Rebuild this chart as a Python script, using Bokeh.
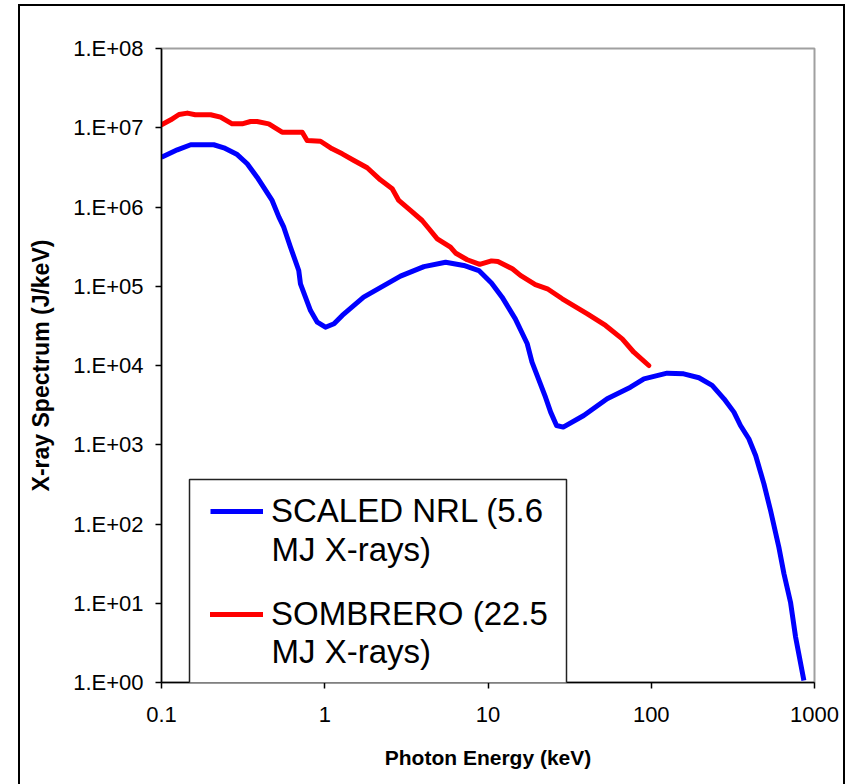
from bokeh.plotting import figure
from bokeh.models import Legend, LegendItem, FixedTicker, BoxAnnotation, Label
from bokeh.embed import file_html
from bokeh.resources import INLINE

# ---- data ----
nrl_energy = [0.100, 0.125, 0.151, 0.209, 0.241, 0.291, 0.335, 0.385, 0.476, 0.524,
              0.561, 0.617, 0.693, 0.710, 0.818, 0.900, 1.01, 1.14, 1.28, 1.73,
              2.91, 4.05, 5.50, 7.11, 8.79, 10.5, 12.2, 14.7, 17.4, 18.6,
              22.5, 24.2, 26.3, 28.9, 38.6, 53.7, 74.6, 90.2, 125, 158,
              196, 236, 279, 321, 352, 396, 436, 490, 538, 605,
              650, 713, 766, 861]
nrl_spectrum = [4.25e6, 5.27e6, 6.10e6, 6.10e6, 5.58e6, 4.59e6, 3.51e6, 2.38e6, 1.21e6, 7.45e5,
                5.56e5, 3.11e5, 1.58e5, 1.07e5, 4.94e4, 3.52e4, 3.04e4, 3.36e4, 4.28e4, 7.28e4,
                1.34e5, 1.77e5, 2.01e5, 1.83e5, 1.58e5, 1.10e5, 7.28e4, 3.88e4, 1.88e4, 1.10e4,
                3.98e3, 2.58e3, 1.75e3, 1.67e3, 2.34e3, 3.80e3, 5.32e3, 6.79e3, 8.00e3, 7.85e3,
                7.00e3, 5.60e3, 3.80e3, 2.58e3, 1.75e3, 1.19e3, 731, 321, 148, 50.9,
                23.6, 10.3, 3.74, 1.06]

sombrero_energy = [0.100, 0.114, 0.128, 0.144, 0.161, 0.200, 0.230, 0.271, 0.312, 0.351,
                   0.385, 0.454, 0.548, 0.728, 0.780, 0.942, 1.11, 1.28, 1.51, 1.82,
                   2.19, 2.59, 2.84, 3.35, 3.95, 4.35, 4.89, 5.89, 6.32, 7.46,
                   8.9, 10.5, 11.5, 14.1, 15.8, 19.5, 23.1, 28.5, 40.6, 52.5,
                   66.4, 78.2, 96.6]
sombrero_spectrum = [1.09e7, 1.26e7, 1.47e7, 1.53e7, 1.46e7, 1.46e7, 1.36e7, 1.12e7, 1.12e7, 1.20e7,
                     1.20e7, 1.12e7, 8.79e6, 8.79e6, 6.90e6, 6.76e6, 5.42e6, 4.69e6, 3.86e6, 3.13e6,
                     2.20e6, 1.70e6, 1.21e6, 9.04e5, 6.76e5, 5.31e5, 3.97e5, 3.11e5, 2.63e5, 2.16e5,
                     1.89e5, 2.09e5, 2.05e5, 1.66e5, 1.37e5, 1.05e5, 9.29e4, 6.95e4, 4.49e4, 3.20e4,
                     2.17e4, 1.47e4, 1.00e4]

x_ticks = [0.1, 1, 10, 100, 1000]
x_tick_labels = ["0.1", "1", "10", "100", "1000"]
y_ticks = [1, 1e1, 1e2, 1e3, 1e4, 1e5, 1e6, 1e7, 1e8]
y_tick_labels = ["1.E+00", "1.E+01", "1.E+02", "1.E+03", "1.E+04",
                 "1.E+05", "1.E+06", "1.E+07", "1.E+08"]

series_first_lines = ["SCALED NRL (5.6", "SOMBRERO (22.5"]
series_second_lines = ["MJ X-rays)", "MJ X-rays)"]

FONT = "Liberation Sans"

p = figure(width=823, height=778, x_axis_type="log", y_axis_type="log",
           x_range=(0.1, 1000), y_range=(1, 1e8),
           output_backend="svg", toolbar_location=None,
           min_border_left=141, min_border_right=29,
           min_border_top=42, min_border_bottom=102,
           x_axis_label="Photon Energy (keV)",
           y_axis_label="X-ray Spectrum (J/keV)")
p.margin = (6, 0, 0, 20)
p.styles = {"outline": "2px solid black"}

p.grid.visible = False
p.outline_line_color = "#a0a0a0"
p.outline_line_width = 2
p.background_fill_color = "white"
p.border_fill_color = "white"

p.xaxis.ticker = FixedTicker(ticks=x_ticks)
p.yaxis.ticker = FixedTicker(ticks=y_ticks)
p.xaxis.major_label_overrides = dict(zip(x_ticks, x_tick_labels))
p.yaxis.major_label_overrides = dict(zip(y_ticks, y_tick_labels))

for ax in (p.xaxis[0], p.yaxis[0]):
    ax.axis_line_color = "black"
    ax.axis_line_width = 1.5
    ax.major_tick_line_color = "black"
    ax.major_tick_line_width = 1.5
    ax.major_tick_out = 6
    ax.major_tick_in = 0
    ax.minor_tick_line_color = None
    ax.major_label_text_font = FONT
    ax.major_label_text_font_size = "22px"
    ax.major_label_text_color = "black"
    ax.axis_label_text_font = FONT
    ax.axis_label_text_font_style = "bold"
    ax.axis_label_text_color = "black"

p.xaxis.axis_label_text_font_size = "21px"
p.yaxis.axis_label_text_font_size = "23px"
p.xaxis.major_label_standoff = 18
p.xaxis.axis_label_standoff = 21
p.yaxis.major_label_standoff = 12
p.yaxis.axis_label_standoff = 16

r1 = p.line(nrl_energy, nrl_spectrum, line_color="#0000ff", line_width=5, line_join="round")
r2 = p.line(sombrero_energy, sombrero_spectrum, line_color="#ff0000", line_width=5,
            line_join="round", line_cap="round")

# legend frame (screen units relative to the plot frame's bottom-left)
legend_box = BoxAnnotation(left=28, right=405, bottom=-6, top=203,
                           left_units="screen", right_units="screen",
                           bottom_units="screen", top_units="screen",
                           fill_color="white", fill_alpha=1.0,
                           line_color="#222222", line_width=1.5, line_alpha=1.0)
p.add_layout(legend_box)

legend = Legend(items=[LegendItem(label=series_first_lines[0], renderers=[r1]),
                       LegendItem(label=series_first_lines[1], renderers=[r2])],
                location=(49, 49))
legend.label_text_font = FONT
legend.label_text_font_size = "33px"
legend.label_text_color = "black"
legend.glyph_width = 53
legend.label_standoff = 8
legend.padding = 21
legend.spacing = 65
legend.border_line_color = None
legend.background_fill_alpha = 0.0
p.add_layout(legend, "center")

for txt, ypos in zip(series_second_lines, (133, 31)):
    p.add_layout(Label(x=110, y=ypos, x_units="screen", y_units="screen", text=txt,
                       text_font=FONT, text_font_size="33px",
                       text_color="black", text_baseline="alphabetic"))

open("out.html", "w").write(file_html(p, INLINE))
